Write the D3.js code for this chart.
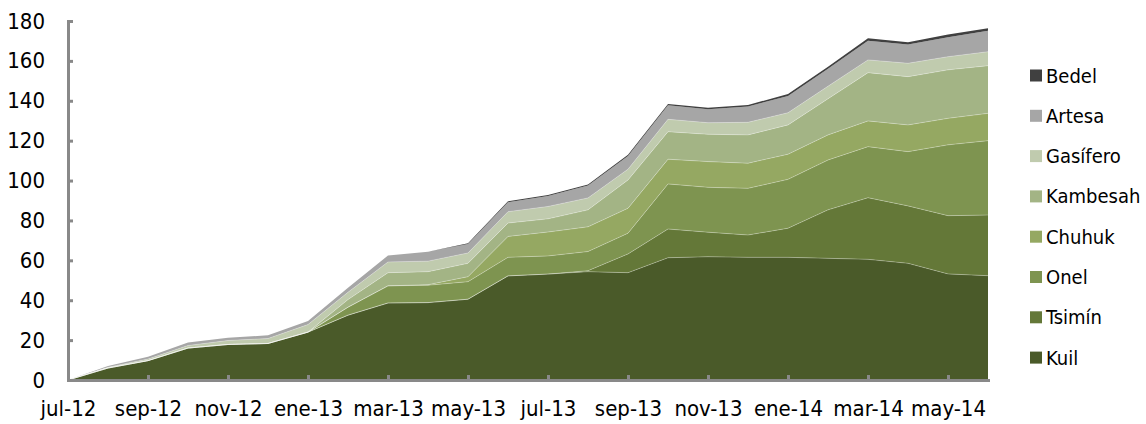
<!DOCTYPE html>
<html>
<head>
<meta charset="utf-8">
<script src="https://cdn.jsdelivr.net/npm/d3@7"></script>
<style>
  body { margin: 0; background: #fff; }
  text { font-family: "DejaVu Sans Condensed", "DejaVu Sans", sans-serif; font-stretch: condensed; fill: #000; }
</style>
</head>
<body>
<div id="grafico"></div>
<script>
// meses (jul-12 a jun-14)
const meses = ["jul-12", "ago-12", "sep-12", "oct-12", "nov-12", "dic-12",
  "ene-13", "feb-13", "mar-13", "abr-13", "may-13", "jun-13",
  "jul-13", "ago-13", "sep-13", "oct-13", "nov-13", "dic-13",
  "ene-14", "feb-14", "mar-14", "abr-14", "may-14", "jun-14"];

// etiquetas del eje x (cada dos meses)
const etiquetas = ["jul-12", "sep-12", "nov-12", "ene-13", "mar-13", "may-13",
  "jul-13", "sep-13", "nov-13", "ene-14", "mar-14", "may-14"];

const ticksY = [0, 20, 40, 60, 80, 100, 120, 140, 160, 180];

// series (de abajo hacia arriba)
const series = ["Kuil", "Tsimín", "Onel", "Chuhuk", "Kambesah", "Gasífero", "Artesa", "Bedel"];

const kuil     = [0, 6, 9.7, 16, 17.8, 18.3, 24, 32.5, 38.6, 38.8, 40.5, 52.2, 53.1, 54.3, 53.8, 61.3, 61.8, 61.5, 61.5, 61, 60.5, 58.5, 53.2, 52.3];
const tsimin   = [0, 0, 0, 0, 0, 0, 0, 0, 0, 0, 0, 0, 0, 0.5, 9.4, 14.4, 12.3, 11.2, 14.6, 24.3, 30.9, 28.8, 29.2, 30.4];
const onel     = [0, 0, 0, 0, 0, 0, 0, 4, 8.6, 8.7, 8.8, 9.3, 9.1, 9.6, 10.4, 22.6, 22.5, 23.4, 24.5, 25, 25.6, 27.2, 35.5, 37.3];
const chuhuk   = [0, 0, 0, 0, 0, 0, 0, 0, 0, 0.3, 2.5, 10.5, 12, 12.4, 12.5, 12.4, 12.9, 12.6, 12.6, 12.6, 12.9, 13.4, 13.3, 13.7];
const kambesah = [0, 0, 0, 0, 0, 0, 0, 3.8, 6.6, 6.5, 6.7, 6.7, 6.6, 8.5, 14.2, 13.8, 13.7, 14.2, 14.7, 18.1, 24.2, 24.2, 24.3, 23.9];
const gasifero = [0, 0.4, 0.8, 1.3, 2, 2.5, 3.8, 3.7, 5.4, 5.3, 5.2, 5.7, 6.2, 6, 5.4, 6.2, 5.8, 6.3, 6.1, 6.3, 6.4, 6.7, 6.6, 7];
const artesa   = [0, 0.6, 1.1, 1.5, 1.4, 1.6, 1.8, 2.3, 3.2, 4.7, 4.5, 4.7, 5.2, 6.2, 6.6, 7, 6.8, 7.9, 8.4, 8.8, 9.6, 9.4, 9.8, 10.5];
const bedel    = [0, 0, 0, 0, 0, 0, 0, 0, 0, 0, 0.4, 0.5, 0.5, 0.5, 0.6, 0.7, 0.7, 0.8, 1, 1, 1.2, 1.2, 1.3, 1.3];

const colores = {
  "Kuil": "#4a5a29",
  "Tsimín": "#647838",
  "Onel": "#7e9450",
  "Chuhuk": "#95a862",
  "Kambesah": "#a3b485",
  "Gasífero": "#c0cbae",
  "Artesa": "#a6a6a6",
  "Bedel": "#404040"
};

const valores = [kuil, tsimin, onel, chuhuk, kambesah, gasifero, artesa, bedel];

const tabla = meses.map((m, i) => {
  const fila = { mes: m };
  series.forEach((s, j) => { fila[s] = valores[j][i]; });
  return fila;
});

const ancho = 1146, alto = 424;

const svg = d3.select("#grafico")
  .append("svg")
  .attr("width", ancho)
  .attr("height", alto);

// Escalas
const x = d3.scalePoint()
  .domain(meses)
  .range([68, 988]);

const y = d3.scaleLinear()
  .domain([0, 180])
  .range([380, 21]);

const pila = d3.stack().keys(series)(tabla);

const area = d3.area()
  .x(d => x(d.data.mes))
  .y0(d => y(d[0]))
  .y1(d => y(d[1]));

const linea = d3.line()
  .x(d => x(d.data.mes))
  .y(d => y(d[1]));

// Áreas
svg.append("g")
  .selectAll("path")
  .data(pila)
  .enter()
  .append("path")
  .attr("d", area)
  .attr("fill", d => colores[d.key]);

// bordes claros entre capas
svg.append("g")
  .selectAll("path")
  .data(pila.slice(0, 6))
  .enter()
  .append("path")
  .attr("d", linea)
  .attr("fill", "none")
  .attr("stroke", "rgba(255,255,255,0.35)")
  .attr("stroke-width", 0.8);

// Ejes
const colorEje = "#898989";

const ejeY = svg.append("g")
  .attr("transform", "translate(68,0)")
  .call(d3.axisLeft(y).tickValues(ticksY).tickSize(-5).tickSizeOuter(0).tickPadding(23));

const ejeX = svg.append("g")
  .attr("transform", "translate(0,380)")
  .call(d3.axisBottom(x).tickValues(etiquetas).tickSize(-5).tickSizeOuter(0).tickPadding(20));

[ejeY, ejeX].forEach(eje => {
  eje.select(".domain")
    .attr("stroke", colorEje)
    .attr("stroke-width", 3)
    .attr("stroke-linecap", "square");
  eje.selectAll(".tick line")
    .attr("stroke", colorEje)
    .attr("stroke-width", 3);
  eje.selectAll("text")
    .attr("font-size", 22)
    .attr("fill", "#000")
    .style("font-family", "'DejaVu Sans Condensed', 'DejaVu Sans', sans-serif");
});

// Leyenda
const leyenda = svg.append("g")
  .attr("transform", "translate(1030, 75.5)");

series.slice().reverse().forEach((s, i) => {
  leyenda.append("rect")
    .attr("x", 0)
    .attr("y", i * 40.3 - 6)
    .attr("width", 12)
    .attr("height", 12)
    .attr("fill", colores[s]);

  leyenda.append("text")
    .attr("x", 16)
    .attr("y", i * 40.3 + 7)
    .attr("font-size", 20)
    .text(s);
});
</script>
</body>
</html>
